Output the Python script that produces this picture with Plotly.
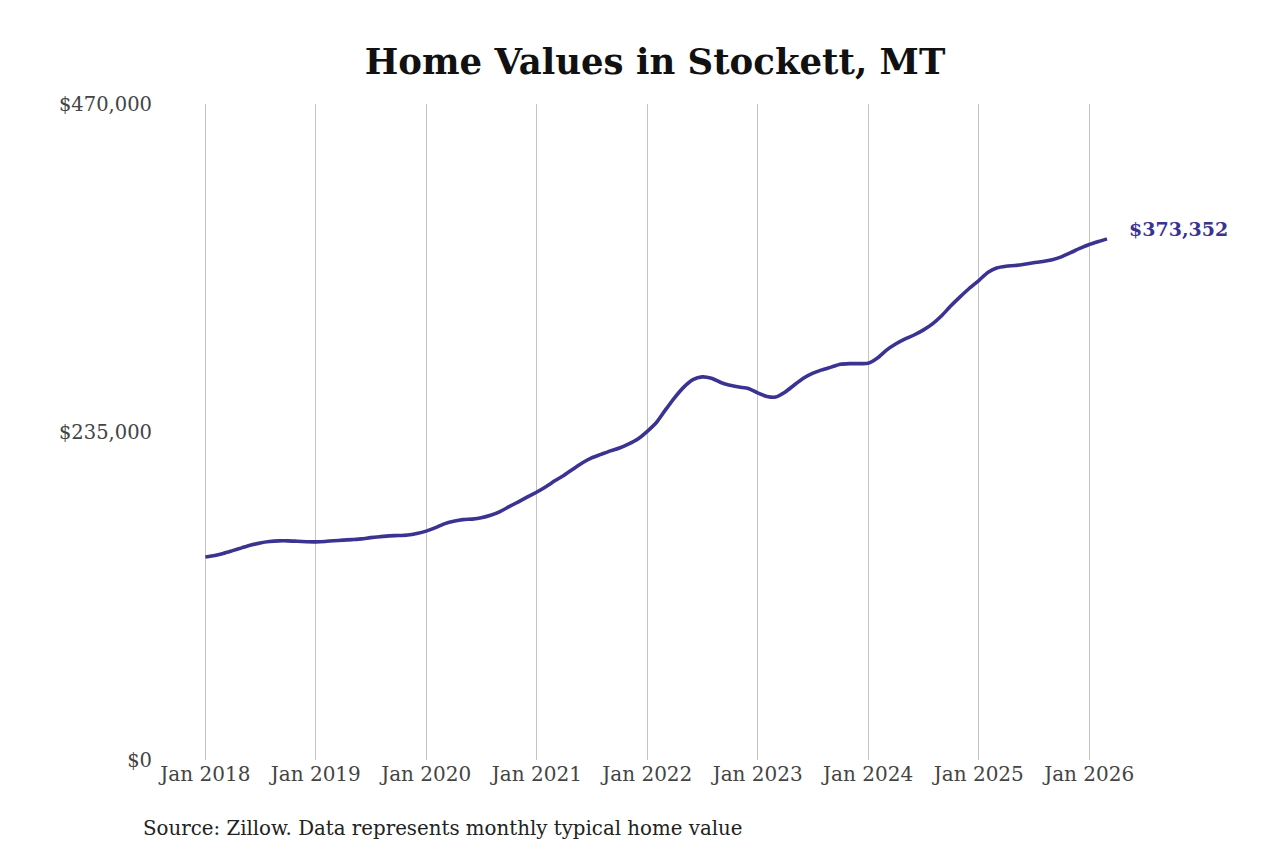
import plotly.graph_objects as go
import pandas as pd

# monthly typical home value, Jan 2018 - Mar 2026
values_2018 = [145500, 146500, 148000, 150000, 152000, 154000, 155500, 156500, 157000, 157000, 156700, 156400]
values_2019 = [156300, 156600, 157100, 157500, 157900, 158400, 159300, 160000, 160600, 160800, 161200, 162300]
values_2020 = [164000, 166500, 169200, 171000, 172200, 172600, 173500, 175300, 178000, 181500, 185000, 188500]
values_2021 = [192000, 196000, 200000, 204000, 208500, 213000, 216500, 219000, 221500, 223500, 226500, 230000]
values_2022 = [235500, 242000, 250500, 259500, 267000, 272500, 274500, 273500, 270500, 268500, 267200, 266200]
values_2023 = [263000, 260500, 260000, 263500, 268500, 273500, 277000, 279500, 281500, 283500, 284000, 284000]
values_2024 = [284200, 288000, 293500, 298000, 301500, 304500, 308000, 312500, 318500, 325500, 332000, 338000]
values_2025 = [343500, 349500, 352500, 353800, 354300, 355200, 356300, 357200, 358500, 360500, 363500, 366500]
values_2026 = [369300, 371500, 373352]

values = (values_2018 + values_2019 + values_2020 + values_2021 + values_2022
          + values_2023 + values_2024 + values_2025 + values_2026)
dates = pd.date_range("2018-01-01", periods=len(values), freq="MS")

tick_dates = [f"{y}-01-01" for y in range(2018, 2027)]
tick_labels = [f"Jan {y}" for y in range(2018, 2027)]
y_ticks = [0, 235000, 470000]
y_labels = ["$0", "$235,000", "$470,000"]

line_color = "#3a3391"
serif = "DejaVu Serif"

fig = go.Figure()
fig.add_trace(go.Scatter(x=dates, y=values, mode="lines",
                         line=dict(color=line_color, width=3.6, shape="spline", smoothing=0.6),
                         hoverinfo="x+y"))

# end value label
fig.add_annotation(x=dates[-1], y=values[-1], text=f"<b>${values[-1]:,}</b>",
                   showarrow=False, xanchor="left", yanchor="middle", xshift=20, yshift=10,
                   font=dict(family=serif, size=19, color=line_color))

# source note under the plot, left aligned
fig.add_annotation(x=(141 - 160) / 970, y=-(828 - 760) / 656, xref="x domain", yref="y domain",
                   text="Source: Zillow. Data represents monthly typical home value",
                   showarrow=False, xanchor="left", yanchor="middle",
                   font=dict(family=serif, size=19.8, color="#222"))

# page body has an 8px margin, so margins are shifted to compensate
fig.update_layout(
    width=1280, height=853,
    paper_bgcolor="white", plot_bgcolor="white",
    margin=dict(l=152, r=158, t=96, b=101),
    showlegend=False,
    title=dict(text="<b>Home Values in Stockett, MT</b>", x=(655 - 8) / 1280, xanchor="center",
               y=1 - (62 - 8) / 853, yanchor="middle",
               font=dict(family=serif, size=35.5, color="#111")),
)
fig.update_xaxes(range=["2017-08-04", "2026-05-16"], tickvals=tick_dates, ticktext=tick_labels,
                 showgrid=True, gridcolor="#c4c4c4", gridwidth=1, zeroline=False, showline=False,
                 tickfont=dict(family=serif, size=20, color="#444"))
fig.update_yaxes(range=[0, 470000], tickvals=y_ticks, ticktext=y_labels,
                 showgrid=False, zeroline=False, showline=False, ticklabelstandoff=7,
                 tickfont=dict(family=serif, size=19.5, color="#444"))

fig.write_html("out.html")
